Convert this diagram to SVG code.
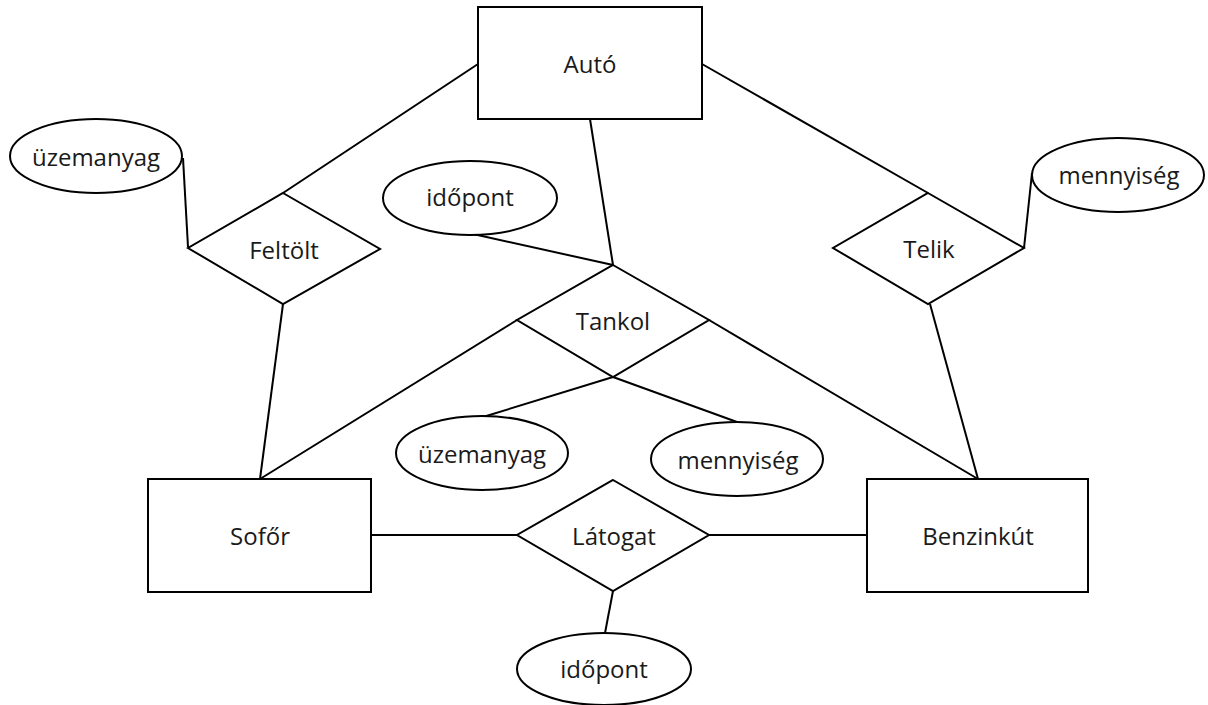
<svg xmlns="http://www.w3.org/2000/svg" width="1208" height="705" viewBox="0 0 1208 705">
<style>
.s{fill:#fff;stroke:#000;stroke-width:2}
.c line{stroke:#000;stroke-width:2}
text{font-family:"Open Sans","Noto Sans",sans-serif;font-size:24px;fill:#1a1a1a;text-anchor:middle}
</style>
<rect width="1208" height="705" fill="#fff"/>
<g class="c" id="connectors">
<line x1="478" y1="64" x2="283" y2="193"/>
<line x1="702" y1="64" x2="928" y2="193"/>
<line x1="183" y1="158" x2="188" y2="247"/>
<line x1="1032" y1="173" x2="1024" y2="248"/>
<line x1="590" y1="119" x2="613" y2="265"/>
<line x1="473" y1="234" x2="613" y2="265"/>
<line x1="283" y1="304" x2="260" y2="479"/>
<line x1="517" y1="320" x2="260" y2="479"/>
<line x1="709" y1="320" x2="978" y2="479"/>
<line x1="930" y1="304" x2="978" y2="479"/>
<line x1="613" y1="377" x2="483" y2="417"/>
<line x1="613" y1="377" x2="737" y2="422"/>
<line x1="371" y1="535" x2="517" y2="535"/>
<line x1="709" y1="535" x2="867" y2="535"/>
<line x1="613" y1="591" x2="605" y2="633"/>
</g>
<g id="auto"><rect class="s" x="478" y="7" width="224" height="112"/><text x="590" y="73">Autó</text></g>
<g id="sofor"><rect class="s" x="148" y="479" width="223" height="113"/><text x="260" y="545">Sofőr</text></g>
<g id="benzinkut"><rect class="s" x="867" y="479" width="221" height="113"/><text x="978" y="545">Benzinkút</text></g>
<g id="feltolt"><polygon class="s" points="283,193 380,249 283,304 188,248"/><text x="284" y="259">Feltölt</text></g>
<g id="telik"><polygon class="s" points="928,193 1024,248 928,304 833,248"/><text x="929" y="258">Telik</text></g>
<g id="tankol"><polygon class="s" points="613,265 709,320 613,377 517,320"/><text x="613" y="330">Tankol</text></g>
<g id="latogat"><polygon class="s" points="613,480 709,535 613,591 517,535"/><text x="614" y="545">Látogat</text></g>
<g id="uzemanyag1"><ellipse class="s" cx="96" cy="156" rx="86" ry="37"/><text x="96" y="166">üzemanyag</text></g>
<g id="mennyiseg1"><ellipse class="s" cx="1118" cy="175" rx="86" ry="37"/><text x="1119" y="184">mennyiség</text></g>
<g id="idopont1"><ellipse class="s" cx="470" cy="198" rx="87" ry="37"/><text x="470" y="206">időpont</text></g>
<g id="uzemanyag2"><ellipse class="s" cx="482" cy="453" rx="86" ry="37"/><text x="482" y="463">üzemanyag</text></g>
<g id="mennyiseg2"><ellipse class="s" cx="737" cy="459" rx="86" ry="37"/><text x="738" y="469">mennyiség</text></g>
<g id="idopont2"><ellipse class="s" cx="604" cy="669" rx="87" ry="36"/><text x="604" y="678">időpont</text></g>
</svg>
